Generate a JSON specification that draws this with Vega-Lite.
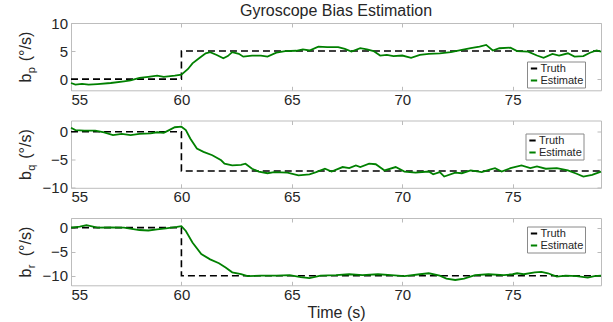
{
  "$schema": "https://vega.github.io/schema/vega-lite/v6.json",
  "padding": {"left": 16, "top": 2, "right": 5, "bottom": 5},
  "background": "white",
  "config": {
    "font": "Liberation Sans",
    "view": {"stroke": "#bdbdbd"},
    "axis": {"labelFont": "Liberation Sans", "labelFontSize": 15, "labelColor": "#262626", "labelOverlap": false, "domain": false, "grid": false, "tickColor": "#bbbbbb", "tickSize": -4, "titleFont": "Liberation Sans", "titleFontWeight": "normal", "titleColor": "#262626"},
    "axisX": {"labelPadding": 6},
    "axisY": {"labelPadding": 7.5},
    "legend": {"title": null, "orient": "none", "fillColor": "white", "strokeColor": "#8a8a8a", "padding": 1.5, "labelFont": "Liberation Sans", "labelFontSize": 11, "labelColor": "#262626", "symbolType": "stroke", "symbolSize": 40, "symbolStrokeWidth": 2, "rowPadding": 0, "labelOffset": 1, "cornerRadius": 0},
    "title": {"font": "Liberation Sans", "fontSize": 16, "fontWeight": "normal", "color": "#262626", "offset": -3, "anchor": "middle"}
  },
  "datasets": {
    "bias": [
      {"axis":"p","series":"Truth","t":55,"v":0,"i":0},{"axis":"p","series":"Truth","t":60,"v":0,"i":1},{"axis":"p","series":"Truth","t":60,"v":5,"i":2},{"axis":"p","series":"Truth","t":79,"v":5,"i":3},
      {"axis":"q","series":"Truth","t":55,"v":0,"i":0},{"axis":"q","series":"Truth","t":60,"v":0,"i":1},{"axis":"q","series":"Truth","t":60,"v":-7,"i":2},{"axis":"q","series":"Truth","t":79,"v":-7,"i":3},
      {"axis":"r","series":"Truth","t":55,"v":0,"i":0},{"axis":"r","series":"Truth","t":60,"v":0,"i":1},{"axis":"r","series":"Truth","t":60,"v":-10,"i":2},{"axis":"r","series":"Truth","t":79,"v":-10,"i":3},
      {"axis":"p","series":"Estimate","t":55,"v":-0.7},{"axis":"p","series":"Estimate","t":55.2,"v":-1.0},{"axis":"p","series":"Estimate","t":55.5,"v":-0.85},{"axis":"p","series":"Estimate","t":55.8,"v":-1.0},{"axis":"p","series":"Estimate","t":56.2,"v":-0.9},{"axis":"p","series":"Estimate","t":56.8,"v":-0.7},{"axis":"p","series":"Estimate","t":57.4,"v":-0.4},{"axis":"p","series":"Estimate","t":57.7,"v":-0.25},{"axis":"p","series":"Estimate","t":58.1,"v":0.2},{"axis":"p","series":"Estimate","t":58.5,"v":0.4},{"axis":"p","series":"Estimate","t":58.9,"v":0.6},{"axis":"p","series":"Estimate","t":59.2,"v":0.4},{"axis":"p","series":"Estimate","t":59.7,"v":0.6},{"axis":"p","series":"Estimate","t":60.0,"v":0.8},{"axis":"p","series":"Estimate","t":60.3,"v":1.8},{"axis":"p","series":"Estimate","t":60.5,"v":2.8},{"axis":"p","series":"Estimate","t":60.8,"v":3.7},{"axis":"p","series":"Estimate","t":61.1,"v":4.6},{"axis":"p","series":"Estimate","t":61.3,"v":4.8},{"axis":"p","series":"Estimate","t":61.6,"v":4.3},{"axis":"p","series":"Estimate","t":61.9,"v":3.7},{"axis":"p","series":"Estimate","t":62.1,"v":4.1},{"axis":"p","series":"Estimate","t":62.3,"v":4.8},{"axis":"p","series":"Estimate","t":62.6,"v":4.5},{"axis":"p","series":"Estimate","t":62.8,"v":4.0},{"axis":"p","series":"Estimate","t":63.2,"v":4.2},{"axis":"p","series":"Estimate","t":63.6,"v":4.2},{"axis":"p","series":"Estimate","t":63.9,"v":4.0},{"axis":"p","series":"Estimate","t":64.3,"v":4.7},{"axis":"p","series":"Estimate","t":64.7,"v":5.0},{"axis":"p","series":"Estimate","t":65.2,"v":5.05},{"axis":"p","series":"Estimate","t":65.5,"v":5.3},{"axis":"p","series":"Estimate","t":65.8,"v":5.1},{"axis":"p","series":"Estimate","t":66.2,"v":5.8},{"axis":"p","series":"Estimate","t":66.6,"v":5.7},{"axis":"p","series":"Estimate","t":67.1,"v":5.7},{"axis":"p","series":"Estimate","t":67.4,"v":5.4},{"axis":"p","series":"Estimate","t":67.7,"v":4.9},{"axis":"p","series":"Estimate","t":68.1,"v":5.5},{"axis":"p","series":"Estimate","t":68.4,"v":5.3},{"axis":"p","series":"Estimate","t":68.7,"v":5.0},{"axis":"p","series":"Estimate","t":69.0,"v":4.2},{"axis":"p","series":"Estimate","t":69.3,"v":4.3},{"axis":"p","series":"Estimate","t":69.6,"v":4.1},{"axis":"p","series":"Estimate","t":70.0,"v":4.2},{"axis":"p","series":"Estimate","t":70.4,"v":3.8},{"axis":"p","series":"Estimate","t":70.8,"v":4.3},{"axis":"p","series":"Estimate","t":71.2,"v":4.5},{"axis":"p","series":"Estimate","t":71.7,"v":4.6},{"axis":"p","series":"Estimate","t":72.2,"v":4.8},{"axis":"p","series":"Estimate","t":72.7,"v":5.2},{"axis":"p","series":"Estimate","t":73.1,"v":5.5},{"axis":"p","series":"Estimate","t":73.5,"v":5.8},{"axis":"p","series":"Estimate","t":73.8,"v":6.1},{"axis":"p","series":"Estimate","t":74.1,"v":5.1},{"axis":"p","series":"Estimate","t":74.4,"v":5.5},{"axis":"p","series":"Estimate","t":74.9,"v":5.6},{"axis":"p","series":"Estimate","t":75.2,"v":5.0},{"axis":"p","series":"Estimate","t":75.7,"v":4.9},{"axis":"p","series":"Estimate","t":76.1,"v":4.2},{"axis":"p","series":"Estimate","t":76.4,"v":3.8},{"axis":"p","series":"Estimate","t":76.8,"v":4.5},{"axis":"p","series":"Estimate","t":77.1,"v":4.2},{"axis":"p","series":"Estimate","t":77.5,"v":4.6},{"axis":"p","series":"Estimate","t":77.8,"v":4.0},{"axis":"p","series":"Estimate","t":78.2,"v":4.1},{"axis":"p","series":"Estimate","t":78.5,"v":4.7},{"axis":"p","series":"Estimate","t":78.8,"v":5.1},{"axis":"p","series":"Estimate","t":79.0,"v":4.9},
      {"axis":"q","series":"Estimate","t":55,"v":0.7},{"axis":"q","series":"Estimate","t":55.2,"v":0.3},{"axis":"q","series":"Estimate","t":55.6,"v":0.2},{"axis":"q","series":"Estimate","t":56.1,"v":0.2},{"axis":"q","series":"Estimate","t":56.5,"v":-0.1},{"axis":"q","series":"Estimate","t":56.9,"v":-0.6},{"axis":"q","series":"Estimate","t":57.3,"v":-0.4},{"axis":"q","series":"Estimate","t":57.7,"v":-0.6},{"axis":"q","series":"Estimate","t":58.1,"v":-0.4},{"axis":"q","series":"Estimate","t":58.6,"v":-0.3},{"axis":"q","series":"Estimate","t":58.9,"v":-0.1},{"axis":"q","series":"Estimate","t":59.2,"v":-0.2},{"axis":"q","series":"Estimate","t":59.4,"v":0.2},{"axis":"q","series":"Estimate","t":59.7,"v":0.8},{"axis":"q","series":"Estimate","t":60.0,"v":0.9},{"axis":"q","series":"Estimate","t":60.2,"v":0.3},{"axis":"q","series":"Estimate","t":60.4,"v":-1.2},{"axis":"q","series":"Estimate","t":60.7,"v":-3.0},{"axis":"q","series":"Estimate","t":61.0,"v":-3.6},{"axis":"q","series":"Estimate","t":61.4,"v":-4.2},{"axis":"q","series":"Estimate","t":61.8,"v":-5.1},{"axis":"q","series":"Estimate","t":61.95,"v":-5.7},{"axis":"q","series":"Estimate","t":62.3,"v":-6.0},{"axis":"q","series":"Estimate","t":62.7,"v":-5.9},{"axis":"q","series":"Estimate","t":62.9,"v":-5.7},{"axis":"q","series":"Estimate","t":63.2,"v":-6.6},{"axis":"q","series":"Estimate","t":63.5,"v":-7.1},{"axis":"q","series":"Estimate","t":63.9,"v":-7.4},{"axis":"q","series":"Estimate","t":64.2,"v":-7.2},{"axis":"q","series":"Estimate","t":64.8,"v":-7.3},{"axis":"q","series":"Estimate","t":65.3,"v":-7.8},{"axis":"q","series":"Estimate","t":65.8,"v":-7.6},{"axis":"q","series":"Estimate","t":66.1,"v":-7.2},{"axis":"q","series":"Estimate","t":66.5,"v":-6.6},{"axis":"q","series":"Estimate","t":66.8,"v":-7.1},{"axis":"q","series":"Estimate","t":67.3,"v":-6.3},{"axis":"q","series":"Estimate","t":67.6,"v":-6.5},{"axis":"q","series":"Estimate","t":67.9,"v":-6.0},{"axis":"q","series":"Estimate","t":68.1,"v":-6.3},{"axis":"q","series":"Estimate","t":68.5,"v":-5.7},{"axis":"q","series":"Estimate","t":68.8,"v":-5.8},{"axis":"q","series":"Estimate","t":69.2,"v":-6.9},{"axis":"q","series":"Estimate","t":69.7,"v":-6.3},{"axis":"q","series":"Estimate","t":70.1,"v":-7.1},{"axis":"q","series":"Estimate","t":70.6,"v":-7.3},{"axis":"q","series":"Estimate","t":71.2,"v":-7.1},{"axis":"q","series":"Estimate","t":71.4,"v":-7.6},{"axis":"q","series":"Estimate","t":71.7,"v":-7.2},{"axis":"q","series":"Estimate","t":71.9,"v":-8.0},{"axis":"q","series":"Estimate","t":72.4,"v":-7.3},{"axis":"q","series":"Estimate","t":72.7,"v":-7.4},{"axis":"q","series":"Estimate","t":73.1,"v":-6.9},{"axis":"q","series":"Estimate","t":73.6,"v":-7.2},{"axis":"q","series":"Estimate","t":74.0,"v":-6.7},{"axis":"q","series":"Estimate","t":74.2,"v":-6.5},{"axis":"q","series":"Estimate","t":74.5,"v":-7.1},{"axis":"q","series":"Estimate","t":74.9,"v":-6.5},{"axis":"q","series":"Estimate","t":75.4,"v":-6.0},{"axis":"q","series":"Estimate","t":75.8,"v":-6.5},{"axis":"q","series":"Estimate","t":76.1,"v":-6.2},{"axis":"q","series":"Estimate","t":76.5,"v":-6.6},{"axis":"q","series":"Estimate","t":77.0,"v":-6.5},{"axis":"q","series":"Estimate","t":77.5,"v":-6.9},{"axis":"q","series":"Estimate","t":77.9,"v":-7.5},{"axis":"q","series":"Estimate","t":78.2,"v":-8.0},{"axis":"q","series":"Estimate","t":78.6,"v":-7.7},{"axis":"q","series":"Estimate","t":79.0,"v":-7.1},
      {"axis":"r","series":"Estimate","t":55,"v":0},{"axis":"r","series":"Estimate","t":55.4,"v":0.2},{"axis":"r","series":"Estimate","t":55.7,"v":0.5},{"axis":"r","series":"Estimate","t":56.2,"v":0},{"axis":"r","series":"Estimate","t":56.8,"v":0.05},{"axis":"r","series":"Estimate","t":57.4,"v":0},{"axis":"r","series":"Estimate","t":58.1,"v":-0.5},{"axis":"r","series":"Estimate","t":58.5,"v":-0.6},{"axis":"r","series":"Estimate","t":58.9,"v":-0.35},{"axis":"r","series":"Estimate","t":59.3,"v":-0.15},{"axis":"r","series":"Estimate","t":59.8,"v":0.15},{"axis":"r","series":"Estimate","t":60.0,"v":0.3},{"axis":"r","series":"Estimate","t":60.2,"v":-0.7},{"axis":"r","series":"Estimate","t":60.5,"v":-3.1},{"axis":"r","series":"Estimate","t":60.9,"v":-5.5},{"axis":"r","series":"Estimate","t":61.3,"v":-6.6},{"axis":"r","series":"Estimate","t":61.7,"v":-7.4},{"axis":"r","series":"Estimate","t":62.0,"v":-8.3},{"axis":"r","series":"Estimate","t":62.3,"v":-9.3},{"axis":"r","series":"Estimate","t":62.7,"v":-9.7},{"axis":"r","series":"Estimate","t":63.0,"v":-10.1},{"axis":"r","series":"Estimate","t":63.6,"v":-10.0},{"axis":"r","series":"Estimate","t":64.3,"v":-10.0},{"axis":"r","series":"Estimate","t":64.9,"v":-9.9},{"axis":"r","series":"Estimate","t":65.4,"v":-10.3},{"axis":"r","series":"Estimate","t":65.8,"v":-10.5},{"axis":"r","series":"Estimate","t":66.3,"v":-10.0},{"axis":"r","series":"Estimate","t":67.0,"v":-9.9},{"axis":"r","series":"Estimate","t":67.6,"v":-9.7},{"axis":"r","series":"Estimate","t":68.2,"v":-9.9},{"axis":"r","series":"Estimate","t":68.9,"v":-9.7},{"axis":"r","series":"Estimate","t":69.5,"v":-9.9},{"axis":"r","series":"Estimate","t":70.1,"v":-10.1},{"axis":"r","series":"Estimate","t":70.8,"v":-9.7},{"axis":"r","series":"Estimate","t":71.2,"v":-9.5},{"axis":"r","series":"Estimate","t":71.7,"v":-10.0},{"axis":"r","series":"Estimate","t":72.0,"v":-10.6},{"axis":"r","series":"Estimate","t":72.4,"v":-10.9},{"axis":"r","series":"Estimate","t":72.8,"v":-10.6},{"axis":"r","series":"Estimate","t":73.3,"v":-9.9},{"axis":"r","series":"Estimate","t":73.9,"v":-9.7},{"axis":"r","series":"Estimate","t":74.6,"v":-9.9},{"axis":"r","series":"Estimate","t":75.0,"v":-9.7},{"axis":"r","series":"Estimate","t":75.2,"v":-9.5},{"axis":"r","series":"Estimate","t":75.5,"v":-9.7},{"axis":"r","series":"Estimate","t":76.0,"v":-9.3},{"axis":"r","series":"Estimate","t":76.3,"v":-9.2},{"axis":"r","series":"Estimate","t":76.6,"v":-9.5},{"axis":"r","series":"Estimate","t":77.0,"v":-10.2},{"axis":"r","series":"Estimate","t":77.4,"v":-10.0},{"axis":"r","series":"Estimate","t":77.9,"v":-10.1},{"axis":"r","series":"Estimate","t":78.4,"v":-10.4},{"axis":"r","series":"Estimate","t":78.7,"v":-10.1},{"axis":"r","series":"Estimate","t":79.0,"v":-10.0}
    ]
  },
  "data": {"name": "bias"},
  "spacing": 29.5,
  "bounds": "flush",
  "resolve": {"legend": {"color": "independent"}},
  "vconcat": [
    {
      "width": 530, "height": 67.3,
      "title": {"text": "Gyroscope Bias Estimation"},
      "layer": [
        {"transform": [{"filter": "datum.axis === 'p' && datum.series === 'Truth'"}],
         "mark": {"type": "line", "strokeDash": [7, 4], "strokeWidth": 1.6},
         "encoding": {
           "x": {"field": "t", "type": "quantitative", "scale": {"domain": [55, 79], "nice": false}, "axis": {"orient": "bottom", "values": [55, 60, 65, 70, 75], "title": null}},
           "y": {"field": "v", "type": "quantitative", "scale": {"domain": [-2, 10], "nice": false}, "axis": {"orient": "left", "values": [0, 10], "title": "b\u2002 (°/s)", "titleFontSize": 16, "titleX": -40.8, "titleY": 33.65, "titleAngle": -90, "titleAlign": "center", "titleBaseline": "alphabetic"}},
           "order": {"field": "i", "type": "quantitative"},
           "color": {"field": "series", "type": "nominal", "scale": {"domain": ["Truth", "Estimate"], "range": ["#000000", "#008000"]}, "legend": {"legendX": 456, "legendY": 38.5}}
         }},
        {"transform": [{"filter": "datum.axis === 'p' && datum.series === 'Estimate'"}],
         "mark": {"type": "line", "strokeWidth": 1.8},
         "encoding": {
           "x": {"field": "t", "type": "quantitative", "scale": {"domain": [55, 79], "nice": false}, "axis": {"orient": "top", "values": [55, 60, 65, 70, 75], "labels": false, "title": null}},
           "y": {"field": "v", "type": "quantitative", "scale": {"domain": [-2, 10], "nice": false}, "axis": {"orient": "left", "values": [5], "title": "p", "titleFontSize": 11, "titleX": -36.5, "titleY": 49.7, "titleAngle": -90, "titleAlign": "left", "titleBaseline": "alphabetic"}},
           "color": {"field": "series", "type": "nominal", "scale": {"domain": ["Truth", "Estimate"], "range": ["#000000", "#008000"]}}
         }},
        {"transform": [{"filter": "datum.axis === 'p' && datum.series === 'Estimate'"}],
         "mark": {"type": "line", "opacity": 0},
         "encoding": {
           "x": {"field": "t", "type": "quantitative", "scale": {"domain": [55, 79], "nice": false}, "axis": null},
           "y": {"field": "v", "type": "quantitative", "scale": {"domain": [-2, 10], "nice": false}, "axis": {"orient": "right", "values": [0, 5, 10], "labels": false, "title": null}}
         }}
      ],
      "resolve": {"axis": {"x": "independent", "y": "independent"}}
    },
    {
      "width": 530, "height": 67.3,
      "layer": [
        {"transform": [{"filter": "datum.axis === 'q' && datum.series === 'Truth'"}],
         "mark": {"type": "line", "strokeDash": [7, 4], "strokeWidth": 1.6},
         "encoding": {
           "x": {"field": "t", "type": "quantitative", "scale": {"domain": [55, 79], "nice": false}, "axis": {"orient": "bottom", "values": [55, 60, 65, 70, 75], "title": null}},
           "y": {"field": "v", "type": "quantitative", "scale": {"domain": [-10, 2], "nice": false}, "axis": {"orient": "left", "values": [-10, 0], "title": "b\u2002 (°/s)", "titleFontSize": 16, "titleX": -40.8, "titleY": 33.65, "titleAngle": -90, "titleAlign": "center", "titleBaseline": "alphabetic"}},
           "order": {"field": "i", "type": "quantitative"},
           "color": {"field": "series", "type": "nominal", "scale": {"domain": ["Truth", "Estimate"], "range": ["#000000", "#008000"]}, "legend": {"legendX": 454.5, "legendY": 13}}
         }},
        {"transform": [{"filter": "datum.axis === 'q' && datum.series === 'Estimate'"}],
         "mark": {"type": "line", "strokeWidth": 1.8},
         "encoding": {
           "x": {"field": "t", "type": "quantitative", "scale": {"domain": [55, 79], "nice": false}, "axis": {"orient": "top", "values": [55, 60, 65, 70, 75], "labels": false, "title": null}},
           "y": {"field": "v", "type": "quantitative", "scale": {"domain": [-10, 2], "nice": false}, "axis": {"orient": "left", "values": [-5], "title": "q", "titleFontSize": 11, "titleX": -36.5, "titleY": 49.7, "titleAngle": -90, "titleAlign": "left", "titleBaseline": "alphabetic"}},
           "color": {"field": "series", "type": "nominal", "scale": {"domain": ["Truth", "Estimate"], "range": ["#000000", "#008000"]}}
         }},
        {"transform": [{"filter": "datum.axis === 'q' && datum.series === 'Estimate'"}],
         "mark": {"type": "line", "opacity": 0},
         "encoding": {
           "x": {"field": "t", "type": "quantitative", "scale": {"domain": [55, 79], "nice": false}, "axis": null},
           "y": {"field": "v", "type": "quantitative", "scale": {"domain": [-10, 2], "nice": false}, "axis": {"orient": "right", "values": [-10, -5, 0], "labels": false, "title": null}}
         }}
      ],
      "resolve": {"axis": {"x": "independent", "y": "independent"}}
    },
    {
      "width": 530, "height": 67.3,
      "layer": [
        {"transform": [{"filter": "datum.axis === 'r' && datum.series === 'Truth'"}],
         "mark": {"type": "line", "strokeDash": [7, 4], "strokeWidth": 1.6},
         "encoding": {
           "x": {"field": "t", "type": "quantitative", "scale": {"domain": [55, 79], "nice": false}, "axis": {"orient": "bottom", "values": [55, 60, 65, 70, 75], "title": "Time (s)", "titleFontSize": 16, "titlePadding": 2}},
           "y": {"field": "v", "type": "quantitative", "scale": {"domain": [-12, 2], "nice": false}, "axis": {"orient": "left", "values": [-10, 0], "title": "b\u2002 (°/s)", "titleFontSize": 16, "titleX": -40.8, "titleY": 33.65, "titleAngle": -90, "titleAlign": "center", "titleBaseline": "alphabetic"}},
           "order": {"field": "i", "type": "quantitative"},
           "color": {"field": "series", "type": "nominal", "scale": {"domain": ["Truth", "Estimate"], "range": ["#000000", "#008000"]}, "legend": {"legendX": 456, "legendY": 8.5}}
         }},
        {"transform": [{"filter": "datum.axis === 'r' && datum.series === 'Estimate'"}],
         "mark": {"type": "line", "strokeWidth": 1.8},
         "encoding": {
           "x": {"field": "t", "type": "quantitative", "scale": {"domain": [55, 79], "nice": false}, "axis": {"orient": "top", "values": [55, 60, 65, 70, 75], "labels": false, "title": null}},
           "y": {"field": "v", "type": "quantitative", "scale": {"domain": [-12, 2], "nice": false}, "axis": {"orient": "left", "values": [-5], "title": "r", "titleFontSize": 11, "titleX": -36.5, "titleY": 49.7, "titleAngle": -90, "titleAlign": "left", "titleBaseline": "alphabetic"}},
           "color": {"field": "series", "type": "nominal", "scale": {"domain": ["Truth", "Estimate"], "range": ["#000000", "#008000"]}}
         }},
        {"transform": [{"filter": "datum.axis === 'r' && datum.series === 'Estimate'"}],
         "mark": {"type": "line", "opacity": 0},
         "encoding": {
           "x": {"field": "t", "type": "quantitative", "scale": {"domain": [55, 79], "nice": false}, "axis": null},
           "y": {"field": "v", "type": "quantitative", "scale": {"domain": [-12, 2], "nice": false}, "axis": {"orient": "right", "values": [-10, -5, 0], "labels": false, "title": null}}
         }}
      ],
      "resolve": {"axis": {"x": "independent", "y": "independent"}}
    }
  ]
}
